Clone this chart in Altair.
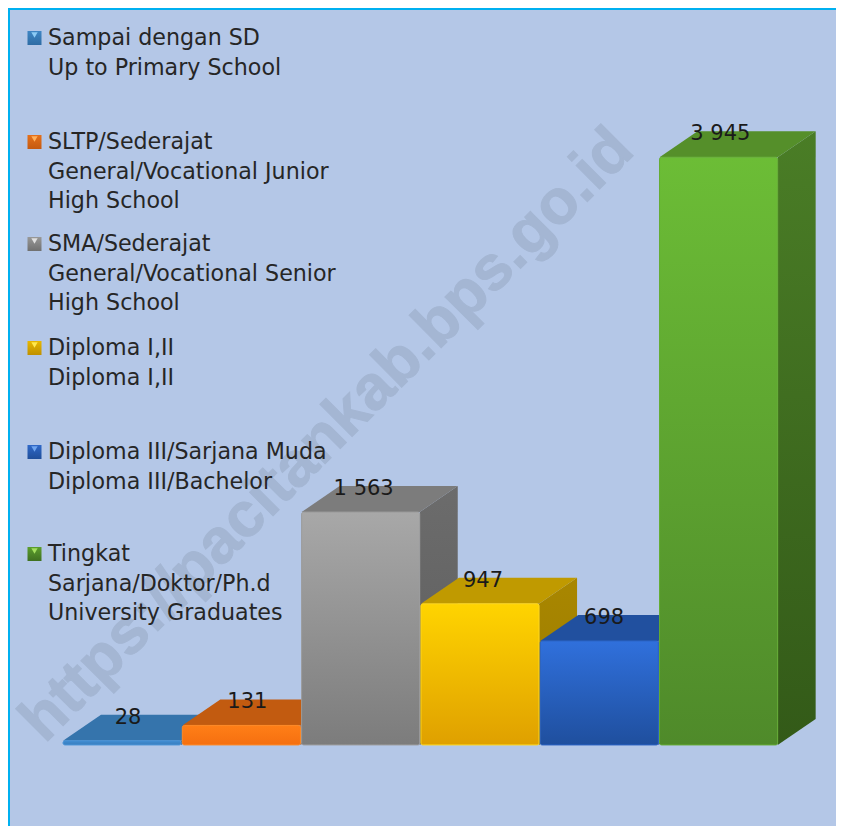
import altair as alt
import pandas as pd

# --- data ---
categories = ["Sampai dengan SD", "SLTP/Sederajat", "SMA/Sederajat", "Diploma I,II",
              "Diploma III/Sarjana Muda", "Tingkat Sarjana/Doktor/Ph.d"]
values = [28, 131, 1563, 947, 698, 3945]
value_labels = ["28", "131", "1 563", "947", "698", "3 945"]
label_nudge = [0.045, 0.045, 0.02, 0.02, 0.035, 0.01]
legend_texts = [
    "Sampai dengan SD\nUp to Primary School",
    "SLTP/Sederajat\nGeneral/Vocational Junior\nHigh School",
    "SMA/Sederajat\nGeneral/Vocational Senior\nHigh School",
    "Diploma I,II\nDiploma I,II",
    "Diploma III/Sarjana Muda\nDiploma III/Bachelor",
    "Tingkat\nSarjana/Doktor/Ph.d\nUniversity Graduates",
]
legend_rows_y = [38, 142, 244, 348, 452, 554]
front_top = ["#3F8BD0", "#FF7F17", "#A8A8A8", "#FFD400", "#3070DC", "#6CBD36"]
front_bottom = ["#3A7FBF", "#F56F10", "#7C7C7C", "#DFA000", "#1F4F9E", "#4F8A2A"]
rim_colors = ["#4A94D8", "#FF8A25", "#9C9C9C", "#FFD820", "#2A62C4", "#64AC32"]
top_colors = ["#3574AC", "#C25B10", "#7C7C7C", "#C09A00", "#21509F", "#558F2A"]
side_top = ["#2F6A9E", "#B0520E", "#6C6C6C", "#A98700", "#1D4A92", "#4A7D26"]
side_bottom = ["#2A5F8F", "#A04A0C", "#5C5C5C", "#9A7A00", "#1A4080", "#335A18"]
swatch_top = ["#3F86C4", "#E5701A", "#989898", "#E8B800", "#2F68C8", "#5C9E2E"]
swatch_bottom = ["#2E6CA4", "#C55A11", "#707070", "#BF9000", "#1F4E9A", "#3F7020"]
swatch_light = ["#8CCBF5", "#FFB05C", "#E0E0E0", "#FFE84D", "#6FA5F0", "#A5E060"]
watermark = "https://pacitankab.bps.go.id"

W, H = 828, 818
BG = "#B4C7E7"
X_DOM = [-0.461, 6.479]
Y_DOM = [-544, 4946]
DX = 0.3185     # depth of the 3D box in x units
DY = 174.5      # depth of the 3D box in value units
BAR = 0.99

xs = alt.Scale(domain=X_DOM, nice=False, zero=False)
ys = alt.Scale(domain=Y_DOM, nice=False, zero=False)
X = alt.X("x:Q", scale=xs, axis=None)
Y = alt.Y("y:Q", scale=ys, axis=None)


def grad(a, b):
    return {"gradient": "linear", "x1": 0, "y1": 0, "x2": 0, "y2": 1,
            "stops": [{"offset": 0, "color": a}, {"offset": 1, "color": b}]}


layers = []

# frame
layers.append(alt.Chart(pd.DataFrame({"a": [0]})).mark_rule(color="#00B0F0", strokeWidth=2).encode(
    x=alt.value(1), y=alt.value(0), y2=alt.value(H)))
layers.append(alt.Chart(pd.DataFrame({"a": [0]})).mark_rule(color="#00B0F0", strokeWidth=2).encode(
    x=alt.value(0), x2=alt.value(W), y=alt.value(1)))

# watermark
layers.append(alt.Chart(pd.DataFrame({"t": [watermark]})).mark_text(
    angle=315, font="Liberation Sans", fontWeight="bold", fontSize=63,
    color="#A4B6D3", stroke="#A4B6D3", strokeWidth=1, align="center", baseline="middle"
).encode(x=alt.value(319), y=alt.value(427), text="t:N"))

# 3D boxes, left to right so each front covers the previous side
for i, v in enumerate(values):
    x0, x1 = i, i + BAR
    side = pd.DataFrame({"x": [x1, x1 + DX], "y": [0, DY], "y2": [v, v + DY]})
    layers.append(alt.Chart(side).mark_area(color=grad(side_top[i], side_bottom[i])).encode(
        x=X, y=Y, y2="y2:Q"))
    top = pd.DataFrame({"x": [x0, x0 + DX, x1, x1 + DX],
                        "y": [v, v, v, v + DY],
                        "y2": [v, v + DY, v + DY, v + DY]})
    layers.append(alt.Chart(top).mark_area(color=top_colors[i]).encode(x=X, y=Y, y2="y2:Q"))
    front = pd.DataFrame({"x": [x0], "x2": [x1], "y": [0], "y2": [v]})
    layers.append(alt.Chart(front).mark_rect(
        color=grad(front_top[i], front_bottom[i]), cornerRadius=2,
        stroke=rim_colors[i], strokeWidth=1,
    ).encode(x=X, x2="x2:Q", y=Y, y2="y2:Q"))

# value labels
lab = pd.DataFrame({"x": [i + 0.5 + label_nudge[i] for i in range(6)],
                    "y": [v + 155 for v in values], "t": value_labels})
layers.append(alt.Chart(lab).mark_text(font="DejaVu Sans", fontSize=21, color="#1A1A1A",
                                       align="center", baseline="middle").encode(x=X, y=Y, text="t:N"))

# hand-set key
for i, txt in enumerate(legend_texts):
    row = pd.DataFrame({"t": [txt], "c": [categories[i]]})
    py = legend_rows_y[i] - 8
    layers.append(alt.Chart(row).mark_square(size=196, color=grad(swatch_top[i], swatch_bottom[i]),
                                             opacity=1).encode(
        x=alt.value(26.5), y=alt.value(py)))
    layers.append(alt.Chart(row).mark_point(shape="triangle-down", size=40, filled=True,
                                            color=swatch_light[i], opacity=1).encode(
        x=alt.value(26.5), y=alt.value(py - 3)))
    layers.append(alt.Chart(row).mark_text(align="left", baseline="top", lineBreak="\n", lineHeight=29.7,
                                           font="DejaVu Sans", fontSize=22.2, color="#262626").encode(
        x=alt.value(40), y=alt.value(py - 11), text="t:N"))

chart = alt.layer(*layers).properties(
    width=W, height=H, background=BG, padding=0, autosize=alt.AutoSizeParams(type="none")
).configure_view(stroke=None)

chart.save("out.html", embed_options={"renderer": "svg", "actions": False})
